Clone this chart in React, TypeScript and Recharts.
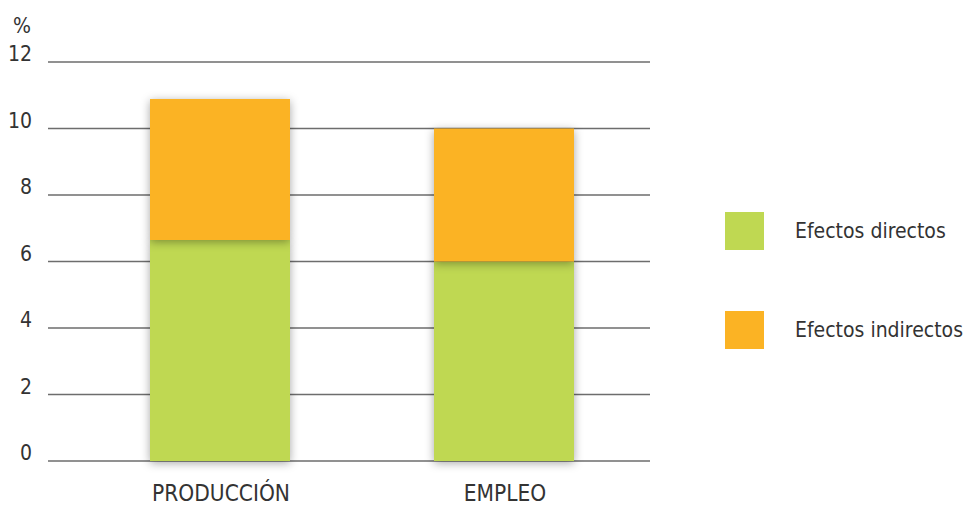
import React from 'react';
import { BarChart, Bar, XAxis, YAxis, CartesianGrid } from 'recharts';

const categories = ['PRODUCCIÓN', 'EMPLEO'];
const directos = [6.65, 6.0];
const indirectos = [4.24, 4.0];
const yTicks = [0, 2, 4, 6, 8, 10, 12];

const GREEN = '#bfd852';
const ORANGE = '#fbb324';
const TEXT = '#333333';
const FONT = '"DejaVu Sans Condensed", sans-serif';

const data = categories.map((name, i) => ({
  name,
  directos: directos[i],
  indirectos: indirectos[i],
}));

const legendItems = [
  { label: 'Efectos directos', color: GREEN },
  { label: 'Efectos indirectos', color: ORANGE },
];

const YTick = (props: any) => {
  const { y, payload } = props;
  return (
    <text x={32} y={y - 1} textAnchor="end" fontSize={21} fill={TEXT} fontFamily={FONT}>
      {payload.value}
    </text>
  );
};

const XTick = (props: any) => {
  const { x, payload } = props;
  return (
    <text x={x + 1} y={501} textAnchor="middle" fontSize={22.5} fill={TEXT} fontFamily={FONT}>
      {payload.value}
    </text>
  );
};

const LegendBox = () => (
  <div style={{ position: 'absolute', left: 725, top: 212, fontFamily: FONT, whiteSpace: 'nowrap' }}>
    {legendItems.map((it, i) => (
      <div key={i} style={{ display: 'flex', alignItems: 'center', height: 38, marginBottom: i === 0 ? 61 : 0 }}>
        <div style={{ width: 39, height: 38, background: it.color }} />
        <span style={{ marginLeft: 31, fontSize: 21, color: TEXT }}>{it.label}</span>
      </div>
    ))}
  </div>
);

export default function App() {
  return (
    <div style={{ position: 'absolute', left: 0, top: 0, width: 965, height: 505, overflow: 'hidden', background: '#fff' }}>
      <style>{`.recharts-bar-rectangles { filter: drop-shadow(0px 2px 5px rgba(0,0,0,0.35)); }`}</style>
      <BarChart width={965} height={505} data={data} margin={{ top: 62, right: 315, bottom: 0, left: 0 }}>
        <CartesianGrid vertical={false} stroke="#6d6d6d" strokeWidth={1.5} />
        <XAxis
          dataKey="name"
          axisLine={false}
          tickLine={false}
          height={44}
          padding={{ left: 30, right: 4 }}
          tick={<XTick />}
        />
        <YAxis
          width={48}
          domain={[0, 12]}
          ticks={yTicks}
          axisLine={false}
          tickLine={false}
          tick={<YTick />}
          label={{
            content: () => (
              <text x={31} y={33} textAnchor="end" fontSize={21} fill={TEXT} fontFamily={FONT}>%</text>
            ),
          }}
        />
        <Bar dataKey="directos" stackId="a" fill={GREEN} barSize={140} isAnimationActive={false} />
        <Bar dataKey="indirectos" stackId="a" fill={ORANGE} barSize={140} isAnimationActive={false} />
      </BarChart>
      <LegendBox />
    </div>
  );
}
